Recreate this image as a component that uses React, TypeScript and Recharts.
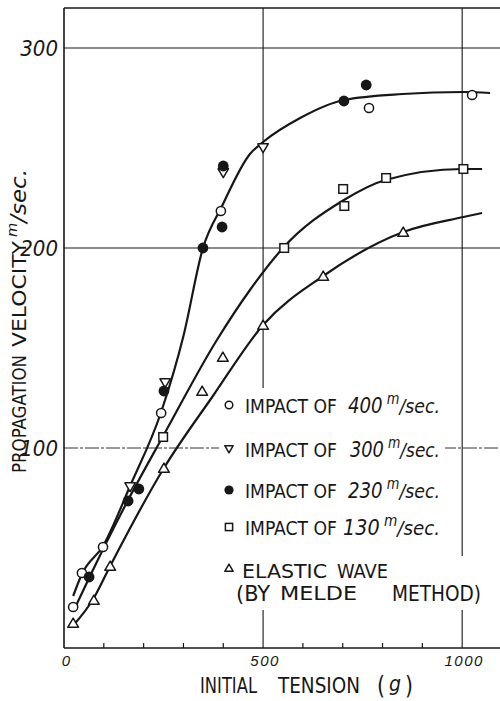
import React from 'react';
import { ComposedChart, Line, Scatter, XAxis, YAxis, ReferenceLine } from 'recharts';

const INK = '#171717';
const NARROW = '"Liberation Sans Narrow", "DejaVu Sans Condensed", "Liberation Sans", sans-serif';
const WIDE = '"Liberation Sans", "DejaVu Sans", sans-serif';

// ─── Fitted curves ────────────────────────────────────────────────────────────
const curveImpact = [
  { x: 23, y: 26 }, { x: 45, y: 37 }, { x: 98, y: 51 }, { x: 166, y: 81 },
  { x: 244, y: 118 }, { x: 300, y: 156 }, { x: 349, y: 200 }, { x: 397, y: 221 },
  { x: 467, y: 247 }, { x: 500, y: 253 }, { x: 593, y: 265 }, { x: 703, y: 274 },
  { x: 850, y: 277 }, { x: 1003, y: 278 }, { x: 1070, y: 277.5 },
];
const curve130 = [
  { x: 25, y: 19 }, { x: 63, y: 35 }, { x: 161, y: 74 }, { x: 249, y: 106 },
  { x: 384, y: 154 }, { x: 467, y: 179 }, { x: 550, y: 200 }, { x: 703, y: 224 },
  { x: 807, y: 234 }, { x: 1000, y: 239.5 }, { x: 1050, y: 239.5 },
];
const curveElastic = [
  { x: 20, y: 10.5 }, { x: 75, y: 25 }, { x: 116, y: 41 }, { x: 251, y: 90 },
  { x: 374, y: 126 }, { x: 500, y: 161.5 }, { x: 651, y: 186 }, { x: 852, y: 208 },
  { x: 1003, y: 215.5 }, { x: 1050, y: 217.5 },
];

// ─── Measured points ──────────────────────────────────────────────────────────
const pts400 = [
  { x: 23, y: 20.5 }, { x: 45, y: 37.5 }, { x: 98, y: 50.5 }, { x: 244, y: 117.5 },
  { x: 394, y: 218.5 }, { x: 766, y: 270 }, { x: 1025, y: 276.5 },
];
const pts300 = [
  { x: 166, y: 80.5 }, { x: 254, y: 132.5 }, { x: 400, y: 237.5 }, { x: 500, y: 250 },
];
const pts230 = [
  { x: 63, y: 35.5 }, { x: 161, y: 73.5 }, { x: 188, y: 79.5 }, { x: 251, y: 128.5 },
  { x: 349, y: 200 }, { x: 397, y: 210.5 }, { x: 400, y: 241 }, { x: 703, y: 273.5 },
  { x: 759, y: 281.5 },
];
const pts130 = [
  { x: 249, y: 105.5 }, { x: 553, y: 200 }, { x: 701, y: 229.5 }, { x: 704, y: 221 },
  { x: 809, y: 235 }, { x: 1003, y: 239.5 },
];
const ptsElastic = [
  { x: 23, y: 12.5 }, { x: 75, y: 24 }, { x: 116, y: 41 }, { x: 251, y: 90 },
  { x: 347, y: 128.5 }, { x: 399, y: 145.5 }, { x: 500, y: 161.5 }, { x: 651, y: 186 },
  { x: 852, y: 208 },
];

// ─── Axes ─────────────────────────────────────────────────────────────────────
const xTicks = [0, 100, 200, 300, 400, 500, 600, 700, 800, 900, 1000];
const xLabels = [0, 500, 1000];
const yTicks = [100, 200, 300];

// ─── Marker shapes ────────────────────────────────────────────────────────────
const openCircle = (r: number) => (p: any) => (
  <circle cx={p.cx} cy={p.cy} r={r} fill="#fff" stroke={INK} strokeWidth={1.5} />
);
const filledCircle = (r: number) => (p: any) => (
  <circle cx={p.cx} cy={p.cy} r={r} fill={INK} />
);
const triDown = (s: number) => (p: any) => (
  <path
    d={`M${p.cx - s},${p.cy - s * 0.8} L${p.cx + s},${p.cy - s * 0.8} L${p.cx},${p.cy + s * 0.9} Z`}
    fill="#fff" stroke={INK} strokeWidth={1.5} strokeLinejoin="round"
  />
);
const triUp = (s: number) => (p: any) => (
  <path
    d={`M${p.cx - s},${p.cy + s * 0.8} L${p.cx + s},${p.cy + s * 0.8} L${p.cx},${p.cy - s * 0.9} Z`}
    fill="#fff" stroke={INK} strokeWidth={1.5} strokeLinejoin="round"
  />
);
const square = (s: number) => (p: any) => (
  <rect x={p.cx - s} y={p.cy - s} width={s * 2} height={s * 2} fill="#fff" stroke={INK} strokeWidth={1.5} />
);

function XTick({ x, y, payload }: any) {
  const v = payload.value;
  return (
    <g>
      {v > 0 && v % 500 !== 0 && (
        <line x1={x} x2={x} y1={y} y2={y - 5} stroke={INK} strokeWidth={1.2} />
      )}
      {xLabels.includes(v) && (
        <text
          x={x + 2} y={y + 18} textAnchor="middle" fontFamily={WIDE}
          fontStyle="italic" fontSize={15} letterSpacing={v === 0 ? 0 : 1.5} fill={INK}
        >
          {v}
        </text>
      )}
    </g>
  );
}

function YTick({ x, y, payload }: any) {
  return (
    <text
      x={x - 6} y={y + 8} textAnchor="end" fontFamily={NARROW}
      fontStyle="italic" fontSize={22} fill={INK}
    >
      {payload.value}
    </text>
  );
}

// ─── Legend / titles overlay ──────────────────────────────────────────────────
const legendRows = [
  { speed: '400', base: 413, sym: 405, numX: 348 },
  { speed: '300', base: 457, sym: 449, numX: 350 },
  { speed: '230', base: 498, sym: 490, numX: 348 },
  { speed: '130', base: 535, sym: 527, numX: 343 },
];

// text squeezed/stretched to the width measured on the drawing
function T({ x, y, w, size = 20, italic = false, children }: any) {
  return (
    <text
      x={x} y={y} textLength={w} lengthAdjust="spacingAndGlyphs"
      fontFamily={NARROW} fontSize={size} fill={INK} fontStyle={italic ? 'italic' : 'normal'}
    >
      {children}
    </text>
  );
}

// "m/sec." with the raised m, as lettered on the drawing
const unit = (mSize: number, size: number, lift: number) => (
  <>
    <tspan fontSize={mSize} dy={-lift}> m</tspan>
    <tspan fontSize={size} dy={lift}>/sec.</tspan>
  </>
);

function Overlay() {
  const sym = [openCircle(3.8), triDown(4.2), filledCircle(4.6), square(3.6)];
  return (
    <svg width={500} height={701} style={{ position: 'absolute', left: 0, top: 0, pointerEvents: 'none' }}>
      {/* legend backdrop hides the grid lines behind it */}
      <rect x={219} y={388} width={226} height={222} fill="#fff" />
      <rect x={440} y={556} width={44} height={54} fill="#fff" />

      {legendRows.map((r, i) => (
        <g key={r.speed}>
          {sym[i]({ cx: 229, cy: r.sym })}
          <T x={245} y={r.base} w={92}>IMPACT OF</T>
          <T x={r.numX} y={r.base} w={440 - r.numX} size={21} italic>
            {r.speed}
            {unit(15, 20, 9)}
          </T>
        </g>
      ))}
      {triUp(4.2)({ cx: 229, cy: 568 })}
      <T x={242} y={578} w={85}>ELASTIC</T>
      <T x={337} y={578} w={51}>WAVE</T>
      <T x={236} y={601} w={34} size={22}>(BY</T>
      <T x={280} y={600} w={77}>MELDE</T>
      <T x={392} y={601} w={89} size={22}>METHOD)</T>

      {/* x title */}
      <T x={200} y={693} w={57} size={22}>INITIAL</T>
      <T x={278} y={693} w={82} size={22}>TENSION</T>
      <T x={377} y={694} w={8} size={24}>(</T>
      <T x={389} y={691} w={12} size={22} italic>g</T>
      <T x={405} y={694} w={8} size={24}>)</T>

      {/* y title */}
      <g transform="translate(26,473) rotate(-90)">
        <T x={0} y={0} w={118} size={19}>PROPAGATION</T>
        <T x={126} y={0} w={106} size={19}>VELOCITY</T>
        <T x={236} y={0} w={68} size={22} italic>{unit(14, 22, 9)}</T>
      </g>
    </svg>
  );
}

export default function App() {
  const line = { dataKey: 'y', type: 'monotone' as const, dot: false, activeDot: false, stroke: INK, strokeWidth: 2.2, isAnimationActive: false };
  return (
    <div style={{ position: 'absolute', left: 0, top: 0, width: 500, height: 701, background: '#fff' }}>
      <ComposedChart width={500} height={701} margin={{ top: 8, right: 0, bottom: 23, left: 4 }}>
        <XAxis
          type="number" dataKey="x" domain={[0, 1095]} ticks={xTicks} allowDataOverflow
          tickSize={0} tickMargin={0} tickLine={false} tick={<XTick />} height={30}
          axisLine={{ stroke: INK, strokeWidth: 1.6 }}
        />
        <YAxis
          type="number" dataKey="y" domain={[0, 320]} ticks={yTicks} allowDataOverflow
          tickSize={0} tickMargin={0} tickLine={false} tick={<YTick />} width={60}
          axisLine={{ stroke: INK, strokeWidth: 1.6 }}
        />

        <ReferenceLine y={320} stroke={INK} strokeWidth={1.6} />
        <ReferenceLine y={300} stroke={INK} strokeWidth={1.1} />
        <ReferenceLine y={200} stroke={INK} strokeWidth={1.1} />
        <ReferenceLine y={100} stroke="#333" strokeWidth={1} strokeDasharray="14 2 3 2" />
        <ReferenceLine x={500} stroke={INK} strokeWidth={1.1} />
        <ReferenceLine x={1000} stroke={INK} strokeWidth={1.1} />

        <Line data={curveImpact} {...line} />
        <Line data={curve130} {...line} />
        <Line data={curveElastic} {...line} />

        <Scatter data={pts400} dataKey="y" shape={openCircle(4.6)} isAnimationActive={false} />
        <Scatter data={pts300} dataKey="y" shape={triDown(5.2)} isAnimationActive={false} />
        <Scatter data={pts230} dataKey="y" shape={filledCircle(5.4)} isAnimationActive={false} />
        <Scatter data={pts130} dataKey="y" shape={square(4.3)} isAnimationActive={false} />
        <Scatter data={ptsElastic} dataKey="y" shape={triUp(5.4)} isAnimationActive={false} />
      </ComposedChart>
      <Overlay />
    </div>
  );
}
